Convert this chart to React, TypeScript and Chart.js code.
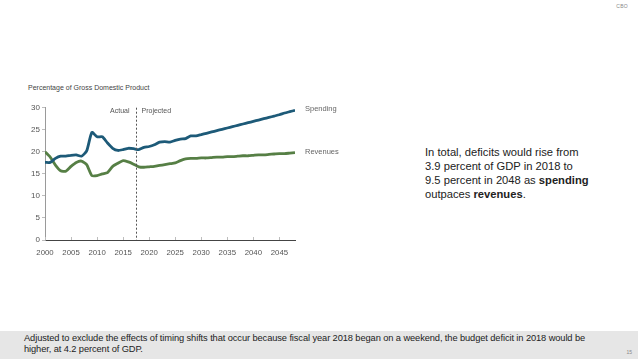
import React, { useEffect, useRef } from "react";
import { Chart, registerables } from "chart.js";

Chart.register(...registerables);

const years = [
  2000, 2001, 2002, 2003, 2004, 2005, 2006, 2007, 2008, 2009,
  2010, 2011, 2012, 2013, 2014, 2015, 2016, 2017, 2018, 2019,
  2020, 2021, 2022, 2023, 2024, 2025, 2026, 2027, 2028, 2029,
  2030, 2031, 2032, 2033, 2034, 2035, 2036, 2037, 2038, 2039,
  2040, 2041, 2042, 2043, 2044, 2045, 2046, 2047, 2048,
];

const spending = [
  17.6, 17.6, 18.5, 19.0, 19.0, 19.2, 19.3, 19.0, 20.2, 24.4,
  23.4, 23.4, 22.0, 20.8, 20.3, 20.5, 20.8, 20.7, 20.5, 21.0,
  21.2, 21.6, 22.2, 22.3, 22.2, 22.6, 22.9, 23.0, 23.6, 23.6,
  23.9, 24.2, 24.5, 24.8, 25.1, 25.4, 25.7, 26.0, 26.3, 26.6,
  26.9, 27.2, 27.5, 27.8, 28.1, 28.4, 28.8, 29.1, 29.4,
];

const revenues = [
  20.0, 18.8, 17.0, 15.7, 15.6, 16.7, 17.6, 17.9, 17.1, 14.6,
  14.6, 15.0, 15.3, 16.7, 17.4, 18.0, 17.7, 17.2, 16.6, 16.5,
  16.6, 16.7, 16.9, 17.1, 17.3, 17.5, 18.0, 18.4, 18.5, 18.5,
  18.6, 18.6, 18.7, 18.8, 18.8, 18.9, 18.9, 19.0, 19.1, 19.1,
  19.2, 19.3, 19.3, 19.4, 19.5, 19.6, 19.6, 19.7, 19.8,
];

const seriesNames = ["Spending", "Revenues"];
const seriesColors = ["#1d5a78", "#567f45"];
const yTicks = [0, 5, 10, 15, 20, 25, 30];
const actualProjectedSplit = 2017.5;

const FONT = '"Liberation Sans", Arial, Helvetica, sans-serif';

const annotationPlugin = {
  id: "cboAnnotations",
  afterDraw(chart: any) {
    const { ctx, chartArea, scales } = chart;
    const x = scales.x;
    const y = scales.y;
    ctx.save();
    ctx.strokeStyle = "#bdbdbd";
    ctx.lineWidth = 1;
    x.ticks.forEach((t: any) => {
      const px = Math.round(x.getPixelForValue(t.value)) + 0.5;
      ctx.beginPath();
      ctx.moveTo(px, chartArea.bottom);
      ctx.lineTo(px, chartArea.bottom - 3);
      ctx.stroke();
    });
    const dx = Math.round(x.getPixelForValue(actualProjectedSplit)) + 0.5;
    ctx.strokeStyle = "#555";
    ctx.setLineDash([2, 2]);
    ctx.beginPath();
    ctx.moveTo(dx, chartArea.top);
    ctx.lineTo(dx, chartArea.bottom);
    ctx.stroke();
    ctx.setLineDash([]);
    ctx.font = `7px ${FONT}`;
    ctx.fillStyle = "#555";
    ctx.textBaseline = "middle";
    const ty = y.getPixelForValue(29.2);
    ctx.textAlign = "right";
    ctx.fillText("Actual", dx - 7, ty);
    ctx.textAlign = "left";
    ctx.fillText("Projected", dx + 5, ty);
    ctx.font = `7.5px ${FONT}`;
    ctx.fillStyle = "#666";
    chart.data.datasets.forEach((ds: any, i: number) => {
      const meta = chart.getDatasetMeta(i);
      const last = meta.data[meta.data.length - 1];
      ctx.fillText(seriesNames[i], last.x + 10, last.y - 1);
    });
    ctx.restore();
  },
};

export default function App() {
  const ref = useRef<HTMLCanvasElement | null>(null);

  useEffect(() => {
    if (!ref.current) return;
    const chart = new Chart(ref.current, {
      type: "line",
      data: {
        datasets: [
          {
            label: seriesNames[0],
            data: years.map((yr, i) => ({ x: yr, y: spending[i] })),
            borderColor: seriesColors[0],
            borderWidth: 2.8,
            pointRadius: 0,
            tension: 0.2,
            fill: false,
          },
          {
            label: seriesNames[1],
            data: years.map((yr, i) => ({ x: yr, y: revenues[i] })),
            borderColor: seriesColors[1],
            borderWidth: 2.8,
            pointRadius: 0,
            tension: 0.2,
            fill: false,
          },
        ],
      },
      options: {
        animation: false,
        responsive: false,
        maintainAspectRatio: false,
        layout: { padding: { left: 20, top: 27.7, right: 45, bottom: 5 } },
        plugins: {
          legend: { display: false },
          tooltip: { enabled: false },
        },
        scales: {
          x: {
            type: "linear",
            min: 2000,
            max: 2048,
            afterFit: (s: any) => {
              s.height = 20;
            },
            ticks: {
              stepSize: 5,
              includeBounds: false,
              autoSkip: false,
              maxRotation: 0,
              padding: 8,
              color: "#555",
              font: { family: FONT, size: 7.8 },
              callback: (v: any) => String(v),
            },
            grid: { display: false, drawTicks: false },
            border: { display: true, color: "#444", width: 1 },
          },
          y: {
            min: 0,
            max: 30,
            afterFit: (s: any) => {
              s.width = 25;
            },
            afterBuildTicks: (s: any) => {
              s.ticks = yTicks.map((v) => ({ value: v }));
            },
            ticks: {
              padding: 2,
              color: "#555",
              font: { family: FONT, size: 8 },
            },
            grid: {
              drawOnChartArea: false,
              drawTicks: true,
              tickLength: 3,
              color: "#bdbdbd",
            },
            border: { display: true, color: "#9a9a9a", width: 1 },
          },
        },
      },
      plugins: [annotationPlugin],
    });
    return () => chart.destroy();
  }, []);

  return (
    <div
      style={{
        position: "fixed",
        left: 0,
        top: 0,
        width: 638,
        height: 359,
        background: "#fff",
        overflow: "hidden",
        fontFamily: FONT,
      }}
    >
      <div
        style={{
          position: "absolute",
          right: 10,
          top: 3,
          fontSize: 5,
          color: "#888",
          letterSpacing: 0.3,
        }}
      >
        CBO
      </div>
      <div
        style={{
          position: "absolute",
          left: 28,
          top: 84,
          fontSize: 7,
          color: "#444",
          whiteSpace: "nowrap",
        }}
      >
        Percentage of Gross Domestic Product
      </div>
      <canvas
        ref={ref}
        width={340}
        height={185}
        style={{ position: "absolute", left: 0, top: 80, width: 340, height: 185 }}
      />
      <div
        style={{
          position: "absolute",
          left: 425,
          top: 145,
          fontSize: 11.2,
          lineHeight: "14px",
          color: "#222",
          whiteSpace: "nowrap",
        }}
      >
        In total, deficits would rise from
        <br />
        3.9 percent of GDP in 2018 to
        <br />
        9.5 percent in 2048 as <b>spending</b>
        <br />
        outpaces <b>revenues</b>.
      </div>
      <div
        style={{
          position: "absolute",
          left: 0,
          top: 331,
          width: 638,
          height: 28,
          background: "#e6e6e6",
        }}
      >
        <div
          style={{
            position: "absolute",
            left: 24,
            top: 1.5,
            fontSize: 9.3,
            lineHeight: "11px",
            color: "#222",
            whiteSpace: "nowrap",
            letterSpacing: -0.1,
          }}
        >
          Adjusted to exclude the effects of timing shifts that occur because fiscal year 2018 began on a weekend, the budget deficit in 2018 would be
          <br />
          higher, at 4.2 percent of GDP.
        </div>
        <div
          style={{
            position: "absolute",
            right: 6,
            top: 18,
            fontSize: 5,
            color: "#888",
          }}
        >
          15
        </div>
      </div>
    </div>
  );
}
